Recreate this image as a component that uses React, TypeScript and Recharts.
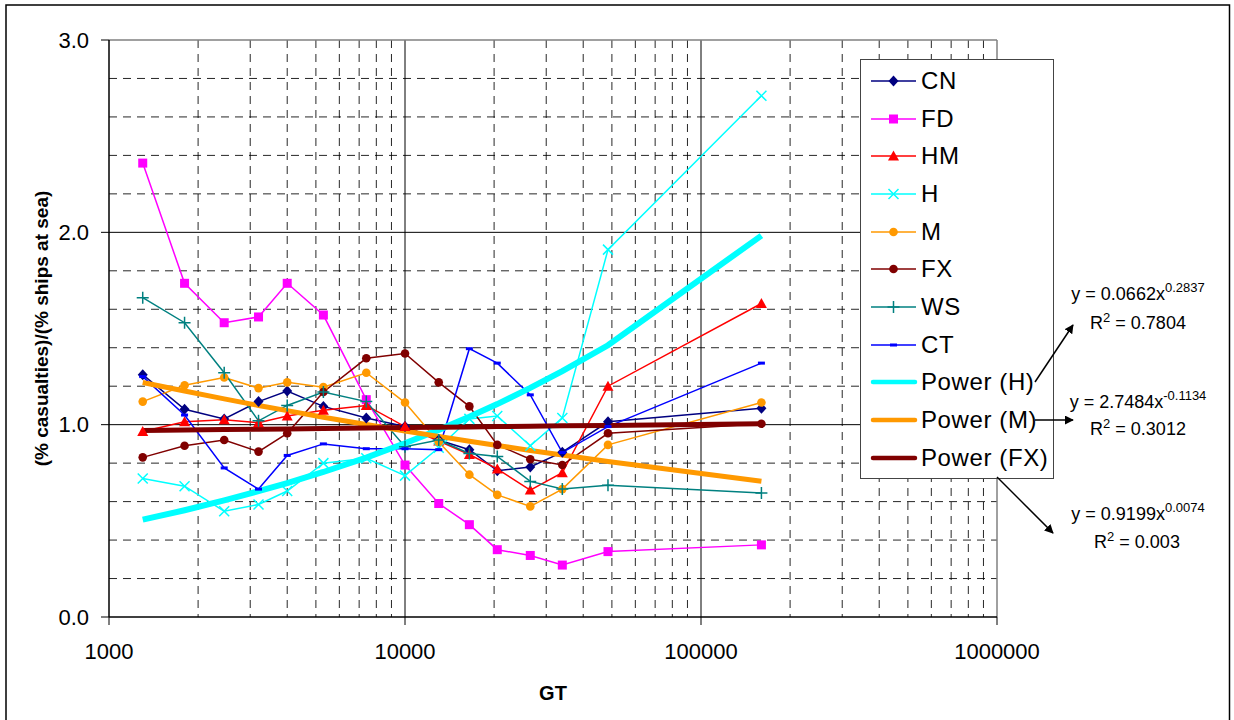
import { LineChart, Line, XAxis, YAxis, CartesianGrid, ReferenceLine, Legend, Label } from 'recharts'

// gross tonnage class midpoints (x)
const GT = [1300, 1800, 2450, 3200, 4000, 5300, 7400, 10000, 13000, 16500, 20500, 26500, 34000, 48500, 160000]

// ratio (% casualties)/(% ships at sea) per ship type
const CN = [1.26, 1.08, 1.03, 1.12, 1.175, 1.095, 1.035, 0.99, 0.92, 0.87, 0.76, 0.78, 0.857, 1.015, 1.085]
const FD = [2.36, 1.735, 1.53, 1.56, 1.735, 1.57, 1.13, 0.79, 0.59, 0.48, 0.35, 0.32, 0.27, 0.34, 0.375]
const HM = [0.965, 1.015, 1.025, 1.01, 1.045, 1.075, 1.1, 0.99, 0.915, 0.845, 0.77, 0.66, 0.75, 1.2, 1.63]
const H = [0.72, 0.68, 0.55, 0.585, 0.655, 0.8, 0.825, 0.735, 0.88, 1.03, 1.045, 0.89, 1.035, 1.91, 2.71]
const M = [1.12, 1.205, 1.245, 1.19, 1.22, 1.195, 1.27, 1.115, 0.91, 0.74, 0.635, 0.575, 0.665, 0.895, 1.115]
const FX = [0.83, 0.89, 0.92, 0.86, 0.955, 1.17, 1.345, 1.37, 1.22, 1.095, 0.895, 0.82, 0.79, 0.955, 1.005]
const WS = [1.66, 1.53, 1.27, 1.02, 1.1, 1.17, 1.12, 0.885, 0.92, 0.85, 0.835, 0.705, 0.665, 0.685, 0.645]
const CT = [1.25, 1.05, 0.775, 0.665, 0.84, 0.9, 0.875, 0.875, 0.87, 1.395, 1.32, 1.155, 0.855, 0.99, 1.32]

// power trend lines, read at the same GT points
const POWER_H = [0.506, 0.555, 0.606, 0.654, 0.696, 0.754, 0.829, 0.903, 0.973, 1.041, 1.107, 1.191, 1.278, 1.413, 1.983]
const POWER_M = [1.219, 1.175, 1.134, 1.1, 1.073, 1.039, 1.001, 0.967, 0.939, 0.914, 0.892, 0.866, 0.842, 0.809, 0.706]
const POWER_FX = [0.97, 0.972, 0.975, 0.976, 0.978, 0.98, 0.983, 0.985, 0.987, 0.988, 0.99, 0.992, 0.994, 0.996, 1.005]

const X_TICKS = [1000, 10000, 100000, 1000000]
const X_MINOR = [
  2000, 3000, 4000, 5000, 6000, 7000, 8000, 9000,
  20000, 30000, 40000, 50000, 60000, 70000, 80000, 90000,
  200000, 300000, 400000, 500000, 600000, 700000, 800000, 900000,
]
const X_MAJOR = [10000, 100000]
const Y_TICKS = [0, 1, 2, 3]
const Y_MINOR = [0.2, 0.4, 0.6, 0.8, 1.2, 1.4, 1.6, 1.8, 2.2, 2.4, 2.6, 2.8]
const Y_MAJOR = [1, 2]

type Shape = 'diamond' | 'square' | 'triangle' | 'cross' | 'circle' | 'plus' | 'dash' | 'none'

interface Series {
  key: string
  name: string
  values: number[]
  color: string
  shape: Shape
  width: number
}

const SERIES: Series[] = [
  { key: 'CN', name: 'CN', values: CN, color: '#000080', shape: 'diamond', width: 1.5 },
  { key: 'FD', name: 'FD', values: FD, color: '#FF00FF', shape: 'square', width: 1.5 },
  { key: 'HM', name: 'HM', values: HM, color: '#FF0000', shape: 'triangle', width: 1.5 },
  { key: 'H', name: 'H', values: H, color: '#00FFFF', shape: 'cross', width: 1.5 },
  { key: 'M', name: 'M', values: M, color: '#FF9900', shape: 'circle', width: 1.5 },
  { key: 'FX', name: 'FX', values: FX, color: '#800000', shape: 'circle', width: 1.5 },
  { key: 'WS', name: 'WS', values: WS, color: '#008080', shape: 'plus', width: 1.5 },
  { key: 'CT', name: 'CT', values: CT, color: '#0000FF', shape: 'dash', width: 1.5 },
  { key: 'PH', name: 'Power (H)', values: POWER_H, color: '#00FFFF', shape: 'none', width: 6 },
  { key: 'PM', name: 'Power (M)', values: POWER_M, color: '#FF9900', shape: 'none', width: 5 },
  { key: 'PFX', name: 'Power (FX)', values: POWER_FX, color: '#800000', shape: 'none', width: 5 },
]

const data = GT.map((gt, i) => {
  const row: Record<string, number> = { gt }
  SERIES.forEach((s) => {
    row[s.key] = s.values[i]
  })
  return row
})

const FONT = '"Liberation Sans", Arial, sans-serif'

function Marker({ shape, color, cx, cy }: { shape: Shape; color: string; cx: number; cy: number }) {
  switch (shape) {
    case 'diamond':
      return <polygon points={`${cx},${cy - 5.5} ${cx + 5},${cy} ${cx},${cy + 5.5} ${cx - 5},${cy}`} fill={color} />
    case 'square':
      return <rect x={cx - 4.5} y={cy - 4.5} width={9} height={9} fill={color} />
    case 'triangle':
      return <polygon points={`${cx},${cy - 5.5} ${cx + 5.5},${cy + 4.5} ${cx - 5.5},${cy + 4.5}`} fill={color} />
    case 'cross':
      return (
        <path
          d={`M${cx - 5},${cy - 5}L${cx + 5},${cy + 5}M${cx + 5},${cy - 5}L${cx - 5},${cy + 5}`}
          stroke={color}
          strokeWidth={1.5}
        />
      )
    case 'circle':
      return <circle cx={cx} cy={cy} r={4.3} fill={color} />
    case 'plus':
      return <path d={`M${cx - 6},${cy}H${cx + 6}M${cx},${cy - 6}V${cy + 6}`} stroke={color} strokeWidth={1.5} />
    case 'dash':
      return <rect x={cx - 3.5} y={cy - 1.5} width={7} height={3} fill={color} />
    default:
      return null
  }
}

function LegendBox() {
  return (
    <div
      style={{
        boxSizing: 'border-box',
        width: 194,
        height: 420,
        border: '1px solid #444',
        background: '#fff',
        paddingTop: 2,
        fontFamily: FONT,
        fontSize: 24,
        letterSpacing: 0.6,
        color: '#000',
      }}
    >
      {SERIES.map((s) => (
        <div key={s.key} style={{ height: 37.7, display: 'flex', alignItems: 'center' }}>
          <svg width={60} height={20} style={{ flex: 'none' }}>
            <line
              x1={s.shape === 'none' ? 12 : 10}
              x2={s.shape === 'none' ? 54 : 55}
              y1={10}
              y2={10}
              stroke={s.color}
              strokeWidth={s.shape === 'none' ? 4.5 : 1.5}
              strokeLinecap={s.shape === 'none' ? 'round' : 'butt'}
            />
            <Marker shape={s.shape} color={s.color} cx={32.5} cy={10} />
          </svg>
          <span style={{ lineHeight: 1 }}>{s.name}</span>
        </div>
      ))}
    </div>
  )
}

function Annotations() {
  return (
    <svg
      width={1234}
      height={720}
      style={{ position: 'absolute', left: 0, top: 0, pointerEvents: 'none', fontFamily: FONT }}
    >
      <defs>
        <marker id="arrow" viewBox="0 0 10 10" refX={9} refY={5} markerWidth={9} markerHeight={9} orient="auto" markerUnits="userSpaceOnUse">
          <path d="M0,0 L10,5 L0,10 z" fill="#000" />
        </marker>
      </defs>
      <rect x={6} y={5} width={1223.5} height={730} fill="none" stroke="#000" strokeWidth={1.5} />
      <g fontSize={18} textAnchor="middle" fill="#000">
        <text x={1138} y={300}>
          <tspan>y = 0.0662x</tspan>
          <tspan dy={-8} fontSize={13}>0.2837</tspan>
        </text>
        <text x={1138} y={328.5}>
          <tspan>R</tspan>
          <tspan dy={-7} fontSize={13}>2</tspan>
          <tspan dy={7}> = 0.7804</tspan>
        </text>
        <text x={1138} y={408}>
          <tspan>y = 2.7484x</tspan>
          <tspan dy={-8} fontSize={13}>-0.1134</tspan>
        </text>
        <text x={1138} y={434.5}>
          <tspan>R</tspan>
          <tspan dy={-7} fontSize={13}>2</tspan>
          <tspan dy={7}> = 0.3012</tspan>
        </text>
        <text x={1138} y={520}>
          <tspan>y = 0.9199x</tspan>
          <tspan dy={-8} fontSize={13}>0.0074</tspan>
        </text>
        <text x={1137} y={548}>
          <tspan>R</tspan>
          <tspan dy={-7} fontSize={13}>2</tspan>
          <tspan dy={7}> = 0.003</tspan>
        </text>
      </g>
      <g stroke="#000" strokeWidth={1.5}>
        <line x1={1035} y1={382} x2={1073} y2={325} markerEnd="url(#arrow)" />
        <line x1={1035} y1={420} x2={1073} y2={420} markerEnd="url(#arrow)" />
        <line x1={997} y1={477} x2={1053} y2={533} markerEnd="url(#arrow)" />
      </g>
    </svg>
  )
}

export default function App() {
  return (
    <div style={{ position: 'absolute', left: 0, top: 0, width: 1234, height: 720, background: '#fff', fontFamily: FONT }}>
      <LineChart width={1234} height={720} data={data} margin={{ top: 40, right: 237, bottom: 0, left: 0 }}>
        <CartesianGrid verticalValues={X_MINOR} horizontalValues={Y_MINOR} stroke="#000" strokeOpacity={0.85} strokeDasharray="8 6" />
        <CartesianGrid verticalValues={X_MAJOR} horizontalValues={Y_MAJOR} stroke="#000" />
        <ReferenceLine y={3} stroke="#808080" strokeWidth={1.5} />
        <ReferenceLine x={1000000} stroke="#808080" strokeWidth={1.5} />
        <XAxis
          dataKey="gt"
          type="number"
          scale="log"
          domain={[1000, 1000000]}
          ticks={X_TICKS}
          interval={0}
          allowDataOverflow
          height={103}
          tickSize={8}
          tickMargin={18}
          axisLine={{ stroke: '#000', strokeWidth: 1.5 }}
          tickLine={{ stroke: '#000' }}
          tick={{ fill: '#000', fontSize: 22 }}
        >
          <Label value="GT" position="insideBottom" offset={20} style={{ fontWeight: 'bold', fontSize: 20, fill: '#000' }} />
        </XAxis>
        <YAxis
          type="number"
          domain={[0, 3]}
          ticks={Y_TICKS}
          interval={0}
          width={109}
          tickSize={8}
          tickMargin={12}
          tickFormatter={(v: number) => v.toFixed(1)}
          axisLine={{ stroke: '#000', strokeWidth: 1.5 }}
          tickLine={{ stroke: '#000' }}
          tick={{ fill: '#000', fontSize: 22 }}
        >
          <Label
            content={(props: any) => {
              const vb = props.viewBox || {}
              const cy = (vb.y ?? 40) + (vb.height ?? 577) / 2
              return (
                <text
                  x={48}
                  y={cy}
                  transform={`rotate(-90, 48, ${cy})`}
                  textAnchor="middle"
                  style={{ fontWeight: 'bold', fontSize: 19, fill: '#000' }}
                >
                  (% casualties)/(% ships at sea)
                </text>
              )
            }}
          />
        </YAxis>
        {SERIES.map((s) => (
          <Line
            key={s.key}
            dataKey={s.key}
            name={s.name}
            type="linear"
            stroke={s.color}
            strokeWidth={s.width}
            isAnimationActive={false}
            activeDot={false}
            dot={
              s.shape === 'none'
                ? false
                : (p: any) => <Marker key={`${s.key}-${p.index}`} shape={s.shape} color={s.color} cx={p.cx} cy={p.cy} />
            }
          />
        ))}
        <Legend
          layout="vertical"
          align="center"
          verticalAlign="middle"
          wrapperStyle={{ left: 860, top: 59, width: 194, height: 420 }}
          content={() => <LegendBox />}
        />
      </LineChart>
      <Annotations />
    </div>
  )
}
